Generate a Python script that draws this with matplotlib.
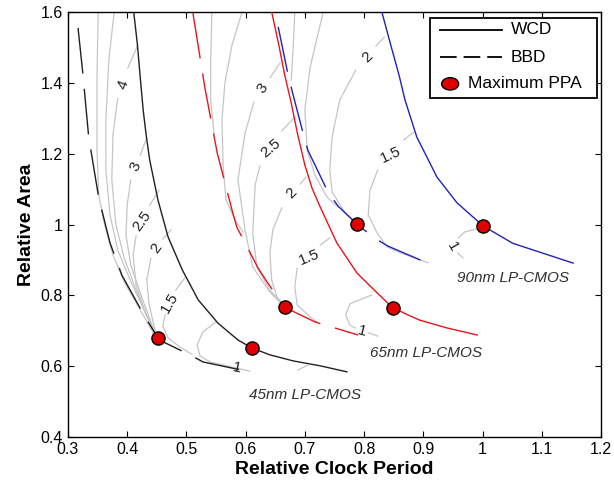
import matplotlib
matplotlib.use('Agg')
import matplotlib.pyplot as plt
from matplotlib.lines import Line2D
from matplotlib.patches import Rectangle, Ellipse
import numpy as np

plt.rcParams['font.family'] = ['Liberation Sans', 'DejaVu Sans']
plt.rcParams['lines.scale_dashes'] = False

nan = np.nan

# pareto curves (relative clock period, relative area)
wcd45_x = [0.411, 0.417, 0.422, 0.427, 0.432, 0.438, 0.452, 0.469, 0.493, 0.520, 0.553, 0.587, 0.611, 0.641, 0.680, 0.726, 0.771]
wcd45_y = [1.600, 1.512, 1.416, 1.323, 1.253, 1.182, 1.069, 0.965, 0.872, 0.787, 0.722, 0.674, 0.651, 0.632, 0.615, 0.601, 0.584]
bbd45_x = [0.317, 0.325, 0.335, 0.352, 0.371, 0.391, 0.430, 0.452, 0.464, 0.506, 0.528, 0.607]
bbd45_y = [1.555, 1.428, 1.247, 1.075, 0.948, 0.857, 0.739, 0.680, 0.666, 0.632, 0.612, 0.584]

wcd65_x = [0.644, 0.656, 0.666, 0.677, 0.688, 0.700, 0.712, 0.726, 0.754, 0.788, 0.822, 0.847, 0.871, 0.894, 0.940, 0.991]
wcd65_y = [1.600, 1.507, 1.422, 1.343, 1.253, 1.168, 1.103, 1.049, 0.948, 0.863, 0.807, 0.767, 0.747, 0.730, 0.708, 0.688]
bbd65_x = [0.511, 0.531, 0.552, 0.577, 0.585, 0.621, 0.636, 0.666, 0.675, 0.692, 0.717, 0.790]
bbd65_y = [1.597, 1.388, 1.202, 1.041, 0.993, 0.877, 0.838, 0.767, 0.759, 0.745, 0.725, 0.688]

wcd90_x = [0.830, 0.845, 0.859, 0.869, 0.889, 0.923, 0.957, 1.001, 1.051, 1.153]
wcd90_y = [1.600, 1.507, 1.422, 1.352, 1.247, 1.134, 1.061, 0.996, 0.947, 0.891]
bbd90_x = [0.655, 0.671, 0.678, 0.697, 0.705, 0.739, 0.756, 0.788, 0.815, 0.839, 0.910]
bbd90_y = [1.558, 1.428, 1.380, 1.258, 1.210, 1.092, 1.052, 1.001, 0.965, 0.940, 0.889]

# maximum PPA points
ppa_x = [0.452, 0.611, 0.667, 0.848, 0.788, 1.001]
ppa_y = [0.680, 0.651, 0.768, 0.764, 1.001, 0.996]

# iso-PPA contours (nan = gap for the label)
g45_a = [(0.351, 1.600), (0.349, 1.408), (0.349, 1.210), (0.352, 1.083), (0.362, 0.999), (0.376, 0.914), (0.396, 0.835), (0.422, 0.759), (0.444, 0.694)]
g45_b = [(0.378, 1.600), (0.369, 1.464), (0.364, 1.295), (0.364, 1.154), (0.371, 1.027), (0.384, 0.928), (0.405, 0.843), (0.430, 0.753), (0.447, 0.691)]
g45_4 = [(0.418, 1.507), (0.401, 1.442), (nan, nan), (0.384, 1.357), (0.376, 1.253), (0.374, 1.126), (0.381, 0.999), (0.395, 0.905), (0.415, 0.815), (0.435, 0.736), (0.449, 0.688)]
g45_3 = [(0.433, 1.244), (0.422, 1.196), (nan, nan), (0.406, 1.126), (0.400, 1.055), (0.398, 0.970), (0.406, 0.886), (0.425, 0.793), (0.442, 0.716), (0.450, 0.685)]
g45_25 = [(0.454, 1.097), (0.438, 1.055), (nan, nan), (0.415, 0.968), (0.410, 0.914), (0.415, 0.829), (0.432, 0.745), (0.450, 0.685)]
g45_2 = [(0.474, 0.985), (0.460, 0.959), (nan, nan), (0.440, 0.905), (0.433, 0.843), (0.437, 0.773), (0.447, 0.702), (0.452, 0.682)]
g45_15 = [(0.497, 0.849), (0.482, 0.815), (nan, nan), (0.464, 0.745), (0.460, 0.713), (0.469, 0.680), (0.489, 0.654), (0.509, 0.634)]
g45_1 = [(0.550, 0.725), (0.528, 0.697), (0.518, 0.660), (0.523, 0.629), (0.540, 0.612), (0.607, 0.586)]
g45_05 = [(0.688, 0.589), (0.705, 0.603)]

g65_a = [(0.543, 1.600), (0.541, 1.464), (0.541, 1.352), (0.547, 1.253)]
g65_b = [(0.594, 1.600), (0.577, 1.507), (0.565, 1.400), (0.560, 1.295), (0.562, 1.162), (0.567, 1.069), (0.582, 1.013), (0.596, 0.979)]
g65_3 = [(0.658, 1.456), (0.641, 1.414), (nan, nan), (0.614, 1.346), (0.599, 1.258), (0.587, 1.126), (0.599, 0.985), (0.612, 0.880), (0.641, 0.809), (0.664, 0.770)]
g65_25 = [(0.683, 1.304), (0.661, 1.264), (nan, nan), (0.624, 1.165), (0.616, 1.112), (0.612, 0.976), (0.619, 0.880), (0.641, 0.815), (0.666, 0.770)]
g65_2 = [(0.702, 1.134), (0.692, 1.114), (nan, nan), (0.661, 1.047), (0.646, 0.985), (0.641, 0.920), (0.644, 0.843), (0.653, 0.795), (0.666, 0.770)]
g65_15 = [(0.742, 0.962), (0.726, 0.942), (nan, nan), (0.687, 0.877), (0.683, 0.824), (0.687, 0.773), (0.709, 0.739), (0.722, 0.722)]
g65_1 = [(0.813, 0.801), (0.776, 0.776), (0.769, 0.745), (0.776, 0.716), (0.785, 0.708), (nan, nan), (0.808, 0.694), (0.823, 0.685)]

g90_a = [(0.683, 1.600), (0.680, 1.493), (0.677, 1.408)]
g90_b = [(0.731, 1.600), (0.709, 1.445), (0.700, 1.323), (0.704, 1.210), (0.717, 1.140), (0.737, 1.078), (0.756, 1.049)]
g90_2 = [(0.834, 1.529), (0.820, 1.504), (nan, nan), (0.786, 1.436), (0.759, 1.352), (0.746, 1.247), (0.742, 1.154), (0.746, 1.092), (0.768, 1.033), (0.785, 1.007)]
g90_15 = [(0.884, 1.261), (0.867, 1.239), (nan, nan), (0.823, 1.154), (0.810, 1.097), (0.807, 1.027), (0.822, 0.976), (0.839, 0.937), (0.861, 0.920), (0.908, 0.892)]
g90_1 = [(0.996, 0.990), (0.970, 0.979), (0.959, 0.962), (nan, nan), (0.958, 0.920), (0.967, 0.906)]

contours = [g45_a, g45_b, g45_4, g45_3, g45_25, g45_2, g45_15, g45_1, g45_05,
            g65_a, g65_b, g65_3, g65_25, g65_2, g65_15, g65_1,
            g90_a, g90_b, g90_2, g90_15, g90_1]

lbl_text = ['4', '3', '2.5', '2', '1.5', '1', '3', '2.5', '2', '1.5', '1', '2', '1.5', '1']
lbl_x = [0.393, 0.414, 0.425, 0.450, 0.472, 0.585, 0.629, 0.643, 0.678, 0.707, 0.796, 0.805, 0.845, 0.950]
lbl_y = [1.394, 1.165, 1.010, 0.934, 0.778, 0.595, 1.385, 1.216, 1.089, 0.908, 0.699, 1.473, 1.196, 0.937]

node_text = ['45nm LP-CMOS', '65nm LP-CMOS', '90nm LP-CMOS']
node_x = [0.700, 0.905, 1.051]
node_y = [0.519, 0.638, 0.849]

legend_text = ['WCD', 'BBD', 'Maximum PPA']

fig = plt.figure(figsize=(6.14, 4.83), dpi=100)
ax = fig.add_axes([0.1107, 0.0952, 0.8681, 0.8799])

for c in contours:
    pts = np.array(c)
    ax.plot(pts[:, 0], pts[:, 1], color='#c5c5c5', lw=0.9, zorder=1)

long_dash = (0, (33, 11))
ax.plot(wcd45_x, wcd45_y, color='#202020', lw=1.0, zorder=3)
ax.plot(bbd45_x, bbd45_y, color='#202020', lw=1.0, ls=long_dash, zorder=3)
ax.plot(wcd65_x, wcd65_y, color='#e8141c', lw=1.0, zorder=3)
ax.plot(bbd65_x, bbd65_y, color='#e8141c', lw=1.0, ls=long_dash, zorder=3)
ax.plot(wcd90_x, wcd90_y, color='#2222b8', lw=1.0, zorder=3)
ax.plot(bbd90_x, bbd90_y, color='#2222b8', lw=1.0, ls=long_dash, zorder=3)

ax.plot(ppa_x, ppa_y, 'o', mfc='#e00000', mec='black', mew=1.0, ms=9.5, zorder=5)

lbl_rot = [70, 65, 55, 55, 60, -12, 55, 40, 45, 22, -15, 45, 25, -60]
for t, x, y, r in zip(lbl_text, lbl_x, lbl_y, lbl_rot):
    ax.text(x, y, t, rotation=r, ha='center', va='center', rotation_mode='anchor',
            fontsize=11, color='#202020', zorder=4)

for t, x, y in zip(node_text, node_x, node_y):
    ax.text(x, y, t, ha='center', va='center', fontsize=11, style='italic', color='#303030')

ax.set_xlim(0.3, 1.2)
ax.set_ylim(0.4, 1.6)
ax.set_xticks(np.arange(0.3, 1.21, 0.1))
ax.set_yticks(np.arange(0.4, 1.61, 0.2))
ax.xaxis.set_major_formatter(plt.FormatStrFormatter('%g'))
ax.yaxis.set_major_formatter(plt.FormatStrFormatter('%g'))
ax.tick_params(direction='in', top=True, right=True, length=4, labelsize=11.5, width=0.8)
for s in ax.spines.values():
    s.set_linewidth(1.0)

ax.set_xlabel('Relative Clock Period', fontsize=14, fontweight='bold', labelpad=3)
ax.set_ylabel('Relative Area', fontsize=14, fontweight='bold', labelpad=4)

# legend drawn by hand (the marker entry text sits further left, as in the original)
tr = ax.transAxes
ax.add_patch(Rectangle((0.679, 0.798), 0.313, 0.188, transform=tr, facecolor='white',
                       edgecolor='black', lw=1.3, zorder=6))
ax.add_line(Line2D([0.698, 0.814], [0.958, 0.958], transform=tr, color='black', lw=1.3, zorder=7))
ax.add_line(Line2D([0.698, 0.814], [0.894, 0.894], transform=tr, color='black', lw=1.3,
                   ls=(0, (12, 5)), zorder=7))
ax.add_patch(Ellipse((0.717, 0.831), 0.032, 0.029, transform=tr, facecolor='#e00000',
                     edgecolor='black', lw=1.0, zorder=7))
ax.text(0.831, 0.958, legend_text[0], transform=tr, fontsize=12.5, va='center', zorder=8)
ax.text(0.831, 0.894, legend_text[1], transform=tr, fontsize=12.5, va='center', zorder=8)
ax.text(0.750, 0.831, legend_text[2], transform=tr, fontsize=12.5, va='center', zorder=8)

fig.savefig('out.png', dpi=100)
